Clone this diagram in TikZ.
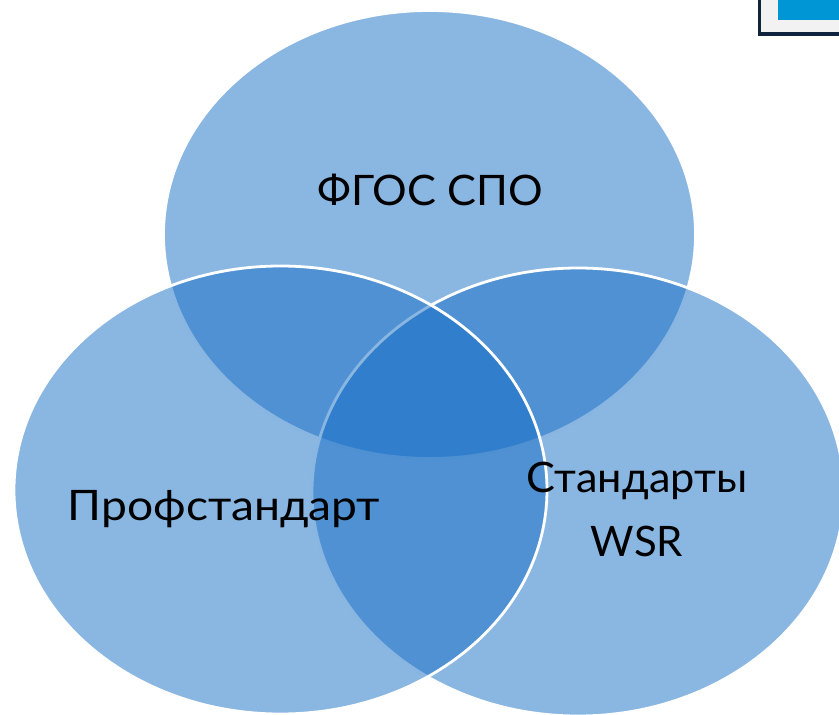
\documentclass[tikz,border=0pt]{standalone}
\usepackage{fontspec}
\setmainfont{Lato}
\usetikzlibrary{shapes.geometric}
\definecolor{vennblue}{RGB}{21,109,197}
\definecolor{boxblue}{RGB}{0,150,214}
\definecolor{boxgray}{RGB}{242,242,242}
\definecolor{boxnavy}{RGB}{16,36,62}
\tikzset{
  venn/.style={ellipse, draw=white, line width=2.8pt, fill=vennblue, fill opacity=0.5, draw opacity=1, inner sep=0pt, minimum width=532pt, minimum height=448pt},
  label/.style={text=black, font=\fontsize{42}{64}\selectfont, align=center, inner sep=0pt}
}
\begin{document}
\begin{tikzpicture}[x=1pt,y=-1pt]
\useasboundingbox (0,0) rectangle (839,715);
\clip (0,0) rectangle (839,715);
% corner box
\fill[boxgray] (759.5,-5) rectangle (845,34);
\fill[boxblue] (778,-5) rectangle (845,20);
\draw[boxnavy, line width=3.5pt] (759.5,-5) -- (759.5,34) -- (845,34);
% ellipses
\node[venn] (top) at (429.5,234.5) {};
\node[venn] (right) at (578,492) {};
\node[venn, minimum width=533pt] (left) at (280.5,490) {};
% labels
\node[label] (t1) at (430,190) {\scalebox{1.03}[1]{ФГОС СПО}};
\node[label] (t2) at (224,509) {\scalebox{1.1}[1]{Профстандарт}};
\node[label] (t3) at (637,509) {\scalebox{1.03}[1]{Стандарты}\\WSR};
\end{tikzpicture}
\end{document}
